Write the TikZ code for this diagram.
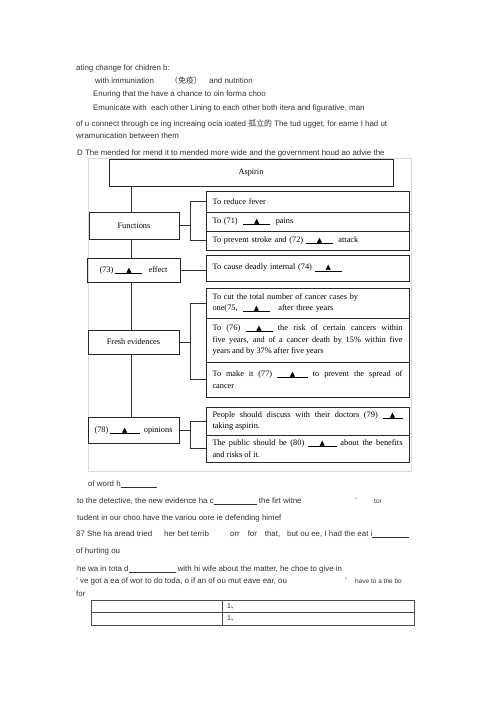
\documentclass[tikz,border=0pt]{standalone}
\usepackage{fontspec}
\setmainfont{Liberation Serif}
\newfontfamily\sans{Liberation Sans}
\newfontfamily\cjk{Noto Sans CJK SC}
\newfontfamily\tri{DejaVu Sans}
\newcommand\dtxt{\fontsize{8.3}{11.4}\selectfont}
\newcommand\ttxt{\sans\fontsize{7.9}{10}\selectfont}
\newcommand\blk[1][27]{\rlap{\rule[-1.3pt]{#1pt}{0.55pt}}\makebox[#1pt]{{\tri\fontsize{7}{7}\selectfont ▲}}}
\newcommand\ulb[1]{\rule[-1pt]{#1pt}{0.5pt}}
\begin{document}
\begin{tikzpicture}[x=1pt,y=-1pt,
 box/.style={draw=black!85, line width=0.6pt, inner sep=0pt},
 rbox/.style={box, minimum width=203, text width=190, inner xsep=6.5pt, align=left, font=\dtxt},
 lbox/.style={box, minimum width=91, align=center, font=\dtxt},
 ln/.style={draw=black!80, line width=0.6pt},
 tx/.style={anchor=base west, inner sep=0pt, font=\ttxt, text=black!80},
 cell/.style={draw=black!70, line width=0.7pt, inner sep=0pt, minimum height=12.5, font=\sans\fontsize{7}{8}\selectfont, text=black!80},
]
\fill[white] (0,0) rectangle (500,707);
\useasboundingbox (0,0) rectangle (500,707);

% top text
\node[tx] (l1) at (76,70) {ating change for chidren b:};
\node[tx] (l2a) at (95,83) {with immuniation};
\node[tx] (l2b) at (170,83) {{\cjk （免疫）}};
\node[tx] (l2c) at (209,83) {and nutrition};
\node[tx] (l3) at (93,96) {Enuring that the have a chance to oin forma choo};
\node[tx] (l4) at (93,110.5) {Emunicate with\ \ each other Lining to each other both itera and figurative, man};
\node[tx] (l5) at (76,126) {of u connect through ce ing increaing ocia ioated {\cjk 孤立的} The tud ugget, for eame I had ut};
\node[tx] (l6) at (76,138) {wramunication between them};
\node[tx] (l7) at (77,155) {D The mended for mend it to mended more wide and the government houd ao advie the};

% scan frame
\draw[black!15, line width=0.8pt] (88,158) rectangle (411,471);

% diagram boxes
\node[box, minimum width=284, minimum height=27, font=\dtxt] (asp) at (251,172.5) {Aspirin};
\node[lbox, minimum width=90, minimum height=27] (fun) at (134,225.5) {Functions};
\node[rbox, minimum height=21] (f1) at (307.5,201.5) {To reduce fever};
\node[rbox, minimum height=19] (f2) at (307.5,221.5) {To (71)\ \ \blk\ \ pains};
\node[rbox, minimum height=19] (f3) at (307.5,240.5) {To prevent stroke and (72) \blk\ \ attack};
\node[lbox, minimum width=93, minimum height=24] (eff) at (133.5,270) {(73) \blk\ \ \ effect};
\node[rbox, minimum height=26] (e1) at (307.5,268) {To cause deadly internal (74) \blk};
\node[lbox, minimum height=24] (fre) at (133.5,342) {Fresh evidences};
\node[rbox, minimum height=30] (v1) at (307.5,303) {To cut the total number of cancer cases by\\ one(75,\ \ \blk\ \ \ after three years};
\node[rbox, minimum height=44, align=justify] (v2) at (307.5,340) {To (76) \blk\ the risk of certain cancers within\linebreak five years, and of a cancer death by 15\% within five\linebreak years and by 37\% after five years};
\node[rbox, minimum height=35, align=justify] (v3) at (307.5,379.5) {To make it (77) \blk[31] to prevent the spread of\linebreak cancer};
\node[lbox, minimum height=26] (opn) at (133.5,430) {(78)\,\blk[30]\ \ opinions};
\node[rbox, minimum height=28, align=justify] (o1) at (307.5,421) {People should discuss with their doctors (79) \blk[20]\linebreak taking aspirin.};
\node[rbox, minimum height=27, align=justify] (o2) at (307.5,448.5) {The public should be (80) \blk[29] about the benefits\linebreak and risks of it.};

% connectors
\coordinate (sp) at (131,0);
\coordinate (bx) at (190,0);
\draw[ln] (sp |- asp.south) -- (sp |- fun.north);
\draw[ln] (sp |- fun.south) -- (sp |- eff.north);
\draw[ln] (sp |- eff.south) -- (sp |- fre.north);
\draw[ln] (sp |- fre.south) -- (sp |- opn.north);
\draw[ln] (fun.east) -- (fun.east -| bx);
\draw[ln] (f1.west) -- (f1.west -| bx) -- (f3.west -| bx) -- (f3.west);
\draw[ln] (eff.east) -- (eff.east -| e1.west);
\draw[ln] (fre.east) -- (fre.east -| bx);
\draw[ln] (v1.west) -- (v1.west -| bx) -- (v3.west -| bx) -- (v3.west);
\draw[ln] (opn.east) -- (opn.east -| bx);
\draw[ln] (o1.west) -- (o1.west -| bx) -- (o2.west -| bx) -- (o2.west);

% lower text
\node[tx] (m1) at (88,486) {of word h\ulb{36}};
\node[tx] (m2) at (77,503) {to the detective, the new evidence ha c\ulb{43} the firt witne};
\node[tx] (m2b) at (355,503) {’};
\node[tx, font=\sans\fontsize{6.5}{8}\selectfont] (m2c) at (374,503) {tor};
\node[tx] (m3) at (77,520) {tudent in our choo have the variou oore ie defending himef};
\node[tx] (m4a) at (76,536) {87 She ha aread tried};
\node[tx] (m4b) at (164,536) {her bet terrib};
\node[tx] (m4c) at (230,536) {orr\quad for\quad that,};
\node[tx] (m4d) at (287,536) {but ou ee, I had the eat i\ulb{37}};
\node[tx] (m5) at (76,553) {of hurting ou};
\node[tx] (m6) at (77,571) {he wa in tota d\ulb{47} with hi wife about the matter, he choe to give in};
\node[tx] (m7a) at (76,583) {’ ve got a ea of wor to do toda, o if an of ou mut eave ear, ou};
\node[tx] (m7b) at (345,583) {’};
\node[tx, font=\sans\fontsize{6.5}{8}\selectfont] (m7c) at (355,583) {have to a the bo};
\node[tx] (m8) at (76,596) {for};

% table
\node[cell, minimum width=131] (c11) at (156.5,606.25) {};
\node[cell, minimum width=192, text width=182, inner xsep=5pt, align=left] (c12) at (318,606.25) {1{\cjk 、}};
\node[cell, minimum width=131] (c21) at (156.5,618.75) {};
\node[cell, minimum width=192, text width=182, inner xsep=5pt, align=left] (c22) at (318,618.75) {1{\cjk 、}};
\end{tikzpicture}
\end{document}
